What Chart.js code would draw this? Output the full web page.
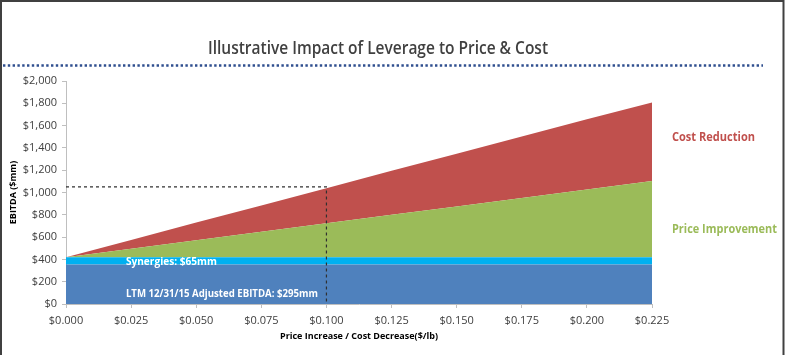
<!DOCTYPE html>
<html>
<head>
<meta charset="utf-8">
<script src="https://cdn.jsdelivr.net/npm/chart.js@4/dist/chart.umd.min.js"></script>
<style>
  html, body { margin: 0; padding: 0; background: #ffffff; }
  #wrap { width: 785px; height: 355px; position: relative; }
</style>
</head>
<body>
<div id="wrap"><canvas id="c" width="785" height="355"></canvas></div>
<script>
// ---- Data ----
const xValues = [0, 0.025, 0.05, 0.075, 0.1, 0.125, 0.15, 0.175, 0.2, 0.225];
const ltmEbitda = [355, 355, 355, 355, 355, 355, 355, 355, 355, 355];
const synergies = [65, 65, 65, 65, 65, 65, 65, 65, 65, 65];
const priceImprovement = [0, 76, 152, 228, 304, 380, 455, 531, 607, 683];
const costReduction = [0, 79, 158, 236, 315, 394, 472, 551, 630, 705];
const refX = [0, 0.1, 0.1];
const refY = [1050, 1050, 0];
const titleText = 'Illustrative Impact of Leverage to Price & Cost';
const yAxisTitle = 'EBITDA ($mm)';
const xAxisTitle = 'Price Increase / Cost Decrease($/lb)';
const labelSynergies = 'Synergies: $65mm';
const labelLtm = 'LTM 12/31/15 Adjusted EBITDA: $295mm';
const labelCost = 'Cost Reduction';
const labelPrice = 'Price Improvement';

const toXY = (arr) => arr.map((v, i) => ({ x: xValues[i], y: v }));

const COLORS = { blue: '#4f81bd', cyan: '#00b0f0', green: '#9bbb59', red: '#c0504d' };
const FONT = "'Open Sans', 'Liberation Sans', sans-serif";

// draw text squeezed horizontally to a target width (mimics a condensed face)
function fitText(ctx, text, x, y, width, align) {
  const w = ctx.measureText(text).width;
  const k = Math.min(1, width / w);
  ctx.save();
  ctx.translate(x, y);
  ctx.scale(k, 1);
  ctx.textAlign = align || 'left';
  ctx.fillText(text, 0, 0);
  ctx.restore();
}

const area = (label, data, color, fill) => ({
  label, data: toXY(data), backgroundColor: color, borderColor: color, borderWidth: 0,
  fill, pointRadius: 0, tension: 0, stack: 'main', order: 2
});

const decor = {
  id: 'decor',
  beforeDraw(chart) {
    const ctx = chart.ctx;
    ctx.save();
    ctx.fillStyle = '#ffffff';
    ctx.fillRect(0, 0, chart.width, chart.height);
    ctx.restore();
  },
  afterDatasetsDraw(chart) {
    const ctx = chart.ctx;
    const xs = chart.scales.x, ys = chart.scales.y;
    ctx.save();
    ctx.textBaseline = 'middle';
    // in-area labels
    ctx.fillStyle = '#ffffff';
    ctx.font = 'bold 11px ' + FONT;
    const lx = xs.getPixelForValue(0.0230);
    fitText(ctx, labelSynergies, lx, ys.getPixelForValue(376) , 91);
    fitText(ctx, labelLtm, lx, ys.getPixelForValue(95), 192);
    // right labels
    ctx.font = 'bold 12px ' + FONT;
    ctx.fillStyle = COLORS.red;
    fitText(ctx, labelCost, 672, 137.5, 83);
    ctx.fillStyle = COLORS.green;
    fitText(ctx, labelPrice, 672, 229.5, 105);
    ctx.restore();
  },
  afterDraw(chart) {
    const ctx = chart.ctx;
    ctx.save();
    // title
    ctx.fillStyle = '#404040';
    ctx.font = '600 18px ' + FONT;
    ctx.textBaseline = 'middle';
    fitText(ctx, titleText, 378, 49, 340, 'center');
    // dotted rule
    ctx.strokeStyle = '#2f4f8f';
    ctx.lineWidth = 2.4;
    ctx.setLineDash([2.4, 2.4]);
    ctx.beginPath();
    ctx.moveTo(3, 65.5);
    ctx.lineTo(763, 65.5);
    ctx.stroke();
    ctx.setLineDash([]);
    // frame
    ctx.strokeStyle = '#404040';
    ctx.lineWidth = 2;
    ctx.beginPath();
    ctx.moveTo(1, 355);
    ctx.lineTo(1, 1);
    ctx.lineTo(783.5, 1);
    ctx.lineTo(783.5, 355);
    ctx.stroke();
    ctx.restore();
  }
};

new Chart(document.getElementById('c'), {
  type: 'line',
  data: {
    datasets: [
      area('LTM Adjusted EBITDA', ltmEbitda, COLORS.blue, 'origin'),
      area('Synergies', synergies, COLORS.cyan, '-1'),
      area('Price Improvement', priceImprovement, COLORS.green, '-1'),
      area('Cost Reduction', costReduction, COLORS.red, '-1'),
      {
        label: 'Reference', data: refX.map((x, i) => ({ x, y: refY[i] })),
        borderColor: '#303030', borderWidth: 1.2, borderDash: [3, 3], fill: false,
        pointRadius: 0, tension: 0, stack: 'ref', order: 1
      }
    ]
  },
  options: {
    responsive: false,
    animation: false,
    devicePixelRatio: 1,
    layout: { padding: { left: 0, right: 133, top: 81, bottom: 0 } },
    plugins: { legend: { display: false }, tooltip: { enabled: false }, title: { display: false } },
    scales: {
      x: {
        type: 'linear', min: 0, max: 0.225,
        afterFit(s) { s.height = 51; },
        ticks: {
          stepSize: 0.025, padding: 6, color: '#404040',
          font: { family: FONT, size: 11 },
          callback: (v) => '$' + Number(v).toFixed(3)
        },
        grid: { display: true, drawOnChartArea: false, drawTicks: true, tickLength: 4, color: '#bfbfbf' },
        border: { display: true, color: '#bfbfbf' },
        title: { display: true, text: xAxisTitle, color: '#000000', font: { family: FONT, size: 9, weight: 'bold' }, padding: { top: 0, bottom: 13 } }
      },
      y: {
        stacked: true, min: 0, max: 2000,
        afterFit(s) { s.width = 66; },
        ticks: {
          stepSize: 200, padding: 5, color: '#404040',
          font: { family: FONT, size: 11 },
          callback: (v) => '$' + Number(v).toLocaleString('en-US')
        },
        grid: { display: true, drawOnChartArea: false, drawTicks: true, tickLength: 4, color: '#bfbfbf' },
        border: { display: true, color: '#bfbfbf' },
        title: { display: true, text: yAxisTitle, color: '#000000', font: { family: FONT, size: 9, weight: 'bold' }, padding: { top: 8, bottom: 0 } }
      }
    }
  },
  plugins: [decor]
});
</script>
</body>
</html>
